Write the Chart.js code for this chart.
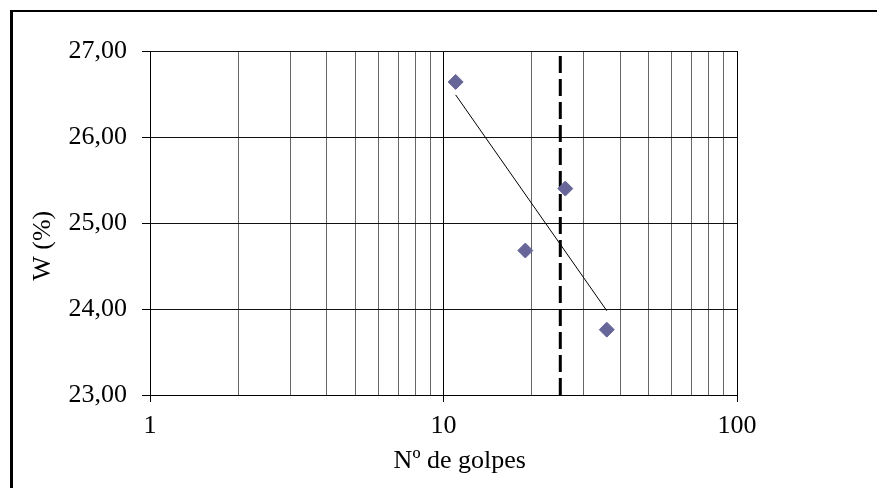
<!DOCTYPE html>
<html>
<head>
<meta charset="utf-8">
<script src="https://cdn.jsdelivr.net/npm/chart.js@4/dist/chart.umd.min.js"></script>
<style>
  html, body { margin: 0; padding: 0; background: #fff; }
  #wrap { position: relative; width: 877px; height: 488px; overflow: hidden; }
  #frame { position: absolute; left: 10px; top: 10px; width: 900px; height: 520px;
           border-left: 3px solid #000; border-top: 2px solid #000; box-sizing: border-box; }
  #c { position: absolute; left: 0; top: 0; }
</style>
</head>
<body>
<div id="wrap">
  <div id="frame"></div>
  <canvas id="c" width="877" height="488"></canvas>
</div>
<script>
// ---- data ----
const golpes = [11, 19, 26, 36];                 // Nº de golpes
const humedad = [26.64, 24.68, 25.40, 23.76];    // W (%)
const trendGolpes = [11, 36];                    // trend line ends
const trendHumedad = [26.49, 23.98];
const limiteGolpes = [25, 25];                   // vertical dashed line at 25 blows
const limiteHumedad = [23, 27];
const xTickValues = [1, 2, 3, 4, 5, 6, 7, 8, 9, 10, 20, 30, 40, 50, 60, 70, 80, 90, 100];
const xTickLabels = ['1', '10', '100'];
const yTickValues = [23, 24, 25, 26, 27];
const xTitle = 'Nº de golpes';
const yTitle = 'W (%)';

const toXY = (xs, ys) => xs.map((x, i) => ({ x: x, y: ys[i] }));
const isDecade = v => Math.abs(Math.log10(v) - Math.round(Math.log10(v))) < 1e-9;
const FONT = 'Liberation Serif, Times New Roman, serif';

new Chart(document.getElementById('c'), {
  type: 'scatter',
  data: {
    datasets: [
      {
        label: 'W',
        data: toXY(golpes, humedad),
        pointStyle: 'rectRot',
        pointRadius: 7.5,
        pointHoverRadius: 7.5,
        backgroundColor: '#666699',
        borderColor: '#666699',
        borderWidth: 1
      },
      {
        label: 'Tendencia',
        data: toXY(trendGolpes, trendHumedad),
        showLine: true,
        pointRadius: 0,
        borderColor: '#000',
        borderWidth: 1,
        fill: false
      },
      {
        label: '25 golpes',
        data: toXY(limiteGolpes, limiteHumedad),
        showLine: true,
        pointRadius: 0,
        borderColor: '#000',
        borderWidth: 3,
        borderDash: [17, 6],
        fill: false
      }
    ]
  },
  options: {
    responsive: false,
    animation: false,
    events: [],
    layout: { padding: { top: 51, right: 140, left: 0, bottom: 0 } },
    plugins: { legend: { display: false }, tooltip: { enabled: false } },
    scales: {
      x: {
        type: 'logarithmic',
        min: 1, max: 100,
        afterFit: s => { s.height = 93; },
        afterBuildTicks: s => { s.ticks = xTickValues.map(v => ({ value: v, major: isDecade(v) })); },
        grid: {
          color: c => (c.tick && isDecade(c.tick.value)) ? '#000' : '#666',
          tickColor: c => (c.tick && isDecade(c.tick.value)) ? '#000' : 'rgba(0,0,0,0)',
          tickLength: 7,
          lineWidth: 1
        },
        border: { display: true, color: '#000', width: 1 },
        ticks: {
          autoSkip: false,
          maxRotation: 0,
          padding: 9,
          color: '#000',
          font: { family: FONT, size: 26 },
          callback: v => (isDecade(v) && xTickLabels.includes(String(Math.round(v)))) ? String(Math.round(v)) : ''
        },
        title: {
          display: true,
          text: '     ' + xTitle,
          color: '#000',
          font: { family: FONT, size: 26 },
          padding: { top: 0, bottom: 11 }
        }
      },
      y: {
        min: 23, max: 27,
        afterFit: s => { s.width = 150; },
        afterBuildTicks: s => { s.ticks = yTickValues.map(v => ({ value: v })); },
        grid: { color: '#111', tickColor: '#000', tickLength: 8, lineWidth: 1 },
        border: { display: true, color: '#000', width: 1 },
        ticks: {
          padding: 15,
          color: '#000',
          font: { family: FONT, size: 26 },
          callback: v => Number(v).toFixed(2).replace('.', ',')
        },
        title: {
          display: true,
          text: yTitle + '       ',
          color: '#000',
          font: { family: FONT, size: 26 },
          padding: { top: 28, bottom: 0 }
        }
      }
    }
  }
});
</script>
</body>
</html>
